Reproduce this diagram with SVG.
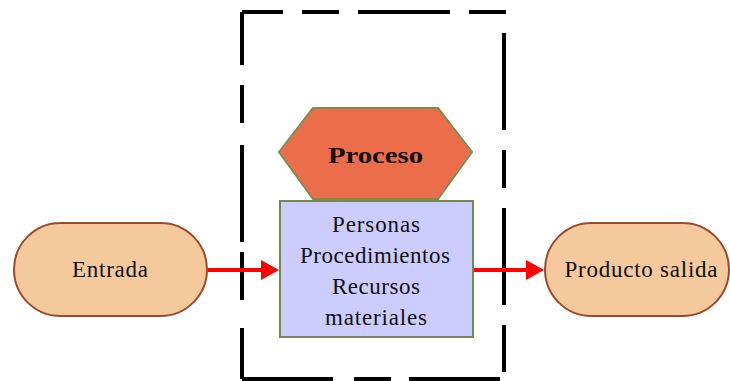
<svg xmlns="http://www.w3.org/2000/svg" width="730" height="381" viewBox="0 0 730 381">
  <style>
    .lbl { font-family: "Liberation Serif", "Times New Roman", serif; font-size: 23px; fill: #111; text-anchor: middle; }
    .pill { fill: #F4CA9D; stroke: #9B4A2E; stroke-width: 2; }
    .frame { fill: none; stroke: #000; stroke-width: 4; }
    .flow { stroke: #FF0000; stroke-width: 4; fill: none; }
  </style>
  <defs>
    <marker id="head" markerUnits="userSpaceOnUse" markerWidth="19" markerHeight="21" refX="0" refY="10" orient="auto">
      <path d="M0,0 L18,10 L0,20 z" fill="#FF0000"/>
    </marker>
  </defs>

  <rect width="730" height="381" fill="#fff"/>

  <!-- dashed system boundary -->
  <g id="frame">
    <path class="frame" d="M242,12 H283 M302,12 H339 M358,12 H450 M469,12 H506
      M242,12 V65 M242,85 V123 M242,145 V242 M242,252 V300 M242,328 V379
      M504,33 V130 M504,150 V188 M504,208 V305 M504,325 V372
      M242,379 H333 M354,379 H391 M409,379 H500"/>
  </g>

  <g id="proceso">
    <polygon points="279,152 313,108 438,108 472,152 438,199 313,199" fill="#EC6D4A" stroke="#7E8B55" stroke-width="2"/>
    <text class="lbl" x="375.5" y="163" font-weight="bold" font-size="28" textLength="95" lengthAdjust="spacingAndGlyphs">Proceso</text>
  </g>

  <g id="recursos">
    <rect x="280" y="201" width="193" height="136" fill="#CCCCFF" stroke="#77894F" stroke-width="2"/>
    <text class="lbl" x="376" y="232" textLength="88">Personas</text>
    <text class="lbl" x="375" y="263" textLength="150">Procedimientos</text>
    <text class="lbl" x="376" y="294" textLength="88">Recursos</text>
    <text class="lbl" x="376" y="325" textLength="102">materiales</text>
  </g>

  <g id="entrada">
    <rect class="pill" x="14" y="223" width="193" height="93" rx="46.5"/>
    <text class="lbl" x="110" y="277" textLength="76">Entrada</text>
  </g>

  <g id="salida">
    <rect class="pill" x="545" y="223" width="184" height="93" rx="46.5"/>
    <text class="lbl" x="641" y="277" textLength="153">Producto salida</text>
  </g>

  <g id="connectors">
    <line class="flow" x1="208" y1="270" x2="261" y2="270" marker-end="url(#head)"/>
    <line class="flow" x1="474" y1="270" x2="526" y2="270" marker-end="url(#head)"/>
  </g>
</svg>
